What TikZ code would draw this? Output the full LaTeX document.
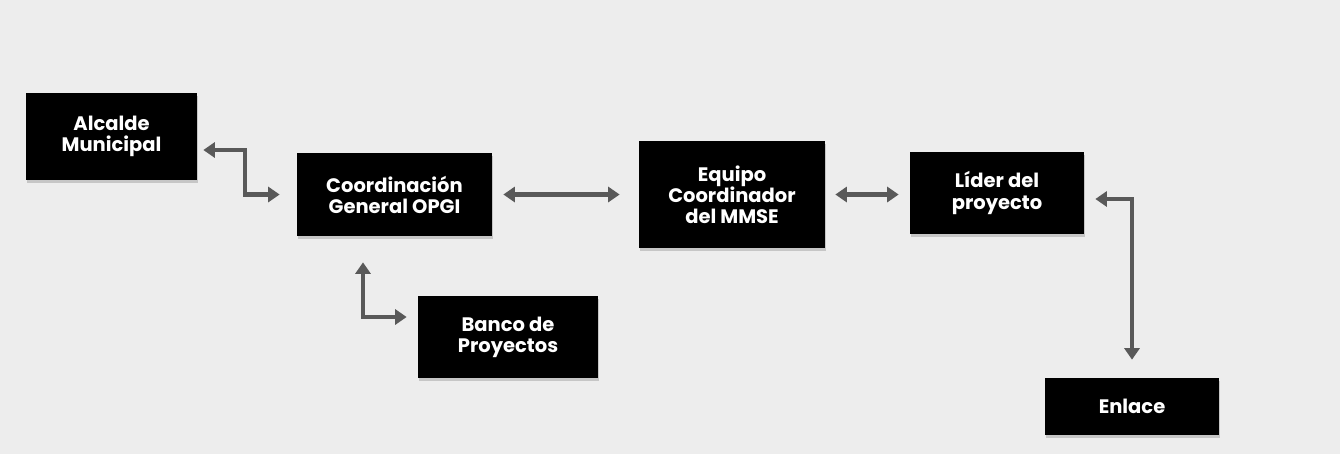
\documentclass[tikz,border=0pt]{standalone}
\usepackage{fontspec}
\setsansfont{Poppins}
\usetikzlibrary{arrows.meta,shadows}

\begin{document}
\begin{tikzpicture}[
	caja/.style={fill=black, text=white, align=center, inner sep=0pt,
		font=\sffamily\bfseries\fontsize{11.1}{12}\selectfont,
		drop shadow={shadow xshift=0.4pt, shadow yshift=-1.6pt, opacity=0.35}},
	flecha/.style={draw=black!65, line width=2.3pt, {Triangle[width=8.5pt,length=6.5pt]}-{Triangle[width=8.5pt,length=6.5pt]}}
	]
	\fill[black!7] (0,0) rectangle (26.8,-9.08);
	\useasboundingbox (0,0) rectangle (26.8,-9.08);
	
	\node[caja, minimum width=3.42cm, minimum height=1.74cm] (alcalde) at (2.23,-2.73) {Alcalde\\Municipal};
	\node[caja, minimum width=3.9cm, minimum height=1.66cm] (coord) at (7.89,-3.89) {Coordinación\\General OPGI};
	\node[caja, minimum width=3.72cm, minimum height=2.14cm] (equipo) at (14.64,-3.89) {Equipo\\Coordinador\\del MMSE};
	\node[caja, minimum width=3.48cm, minimum height=1.64cm] (lider) at (19.94,-3.86) {Líder del\\proyecto};
	\node[caja, minimum width=3.6cm, minimum height=1.64cm] (banco) at (10.16,-6.74) {Banco de\\Proyectos};
	\node[caja, minimum width=3.48cm, minimum height=1.14cm] (enlace) at (22.64,-8.13) {Enlace};
	
	\draw[flecha] ([shift={(0.12,-0.27)}]alcalde.east) -| ([xshift=-1.04cm]coord.west) -- ([xshift=-0.34cm]coord.west);
	\draw[flecha, shorten <=0.22cm, shorten >=0.38cm] (coord.east) -- (equipo.west);
	\draw[flecha, shorten <=0.2cm, shorten >=0.22cm] (equipo.east) -- (equipo.east -| lider.west);
	\draw[flecha] ([shift={(0.22,-0.12)}]lider.east) -| ([yshift=0.36cm]enlace.north);
	\draw[flecha] ([shift={(-0.63,-0.52)}]coord.south) |- ([shift={(-0.22,0.4)}]banco.west);
\end{tikzpicture}
\end{document}
